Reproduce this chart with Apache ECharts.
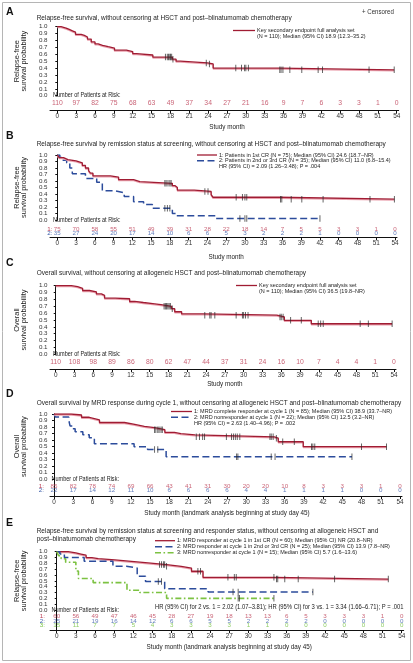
<!DOCTYPE html>
<html><head><meta charset="utf-8">
<script src="https://cdn.jsdelivr.net/npm/echarts@6/dist/echarts.min.js"></script>
<style>html,body{margin:0;padding:0;background:#fff}#c{width:413px;height:663px}</style>
</head><body><div id="c"></div>
<script>
// ---------- DATA ----------
const monthTicks = [0,3,6,9,12,15,18,21,24,27,30,33,36,39,42,45,48,51,54];

const survA = [[0,1.00],[0.6,0.98],[1.4,0.96],[1.9,0.94],[2.4,0.92],[2.9,0.89],[3.8,0.875],[4.3,0.85],[4.8,0.82],[5.4,0.78],[6.0,0.75],[6.5,0.73],[7.2,0.71],[8.1,0.69],[9.1,0.66],[11.0,0.64],[12.0,0.61],[12.6,0.59],[15.2,0.56],[18.3,0.53],[18.9,0.50],[19.6,0.475],[23.9,0.46],[24.8,0.40],[35.4,0.375]];
const censA = [17.2,17.5,17.7,17.9,18.0,18.2,18.4,23.7,24.2,28.4,29.3,29.8,30.0,30.4,35.4,35.6,35.9,37.0,38.9,41.5,42.2,49.6,53.6];
const riskA = [110,97,82,75,68,63,49,37,34,27,21,16,9,7,6,3,3,1,0];

const survB1 = [[0,1],[0.3,0.96],[1.0,0.93],[1.7,0.91],[3.0,0.88],[4.0,0.84],[4.5,0.80],[5.0,0.76],[5.3,0.72],[5.7,0.68],[8.5,0.66],[9.8,0.62],[12.2,0.59],[13.2,0.565],[18.4,0.53],[18.8,0.50],[19.2,0.46],[21.9,0.44],[24.6,0.39],[24.9,0.35],[35.4,0.32]];
const censB1 = [17.2,17.4,17.7,18.0,18.2,23.6,24.1,28.6,29.6,30.0,30.3,35.7,35.9,37.4,39.1,42.5,50.0,53.9];
const survB2 = [[0,1],[0.4,0.96],[0.8,0.92],[1.5,0.88],[2.0,0.80],[2.4,0.71],[4.5,0.64],[6.3,0.58],[7.2,0.45],[9.2,0.42],[10.7,0.36],[12.2,0.28],[13.8,0.24],[15.2,0.18],[18.4,0.10],[19.0,0.065],[25.3,0.025]];
const censB2 = [17.2,17.6,18.0,29.2,30.0,30.3,42.0];
const riskB1 = [75,70,58,55,51,49,39,31,28,22,18,14,7,5,5,3,3,1,0];
const riskB2 = [35,27,24,20,17,14,10,6,6,5,3,2,2,2,1,0,0,0,0];

const survC = [[0,1],[2.5,0.985],[3.5,0.96],[4.3,0.93],[5.4,0.91],[6.5,0.88],[7.3,0.86],[7.8,0.82],[9.5,0.81],[11.8,0.77],[12.6,0.755],[14.0,0.74],[15.5,0.725],[16.8,0.70],[18.5,0.665],[19.0,0.62],[20.1,0.59],[23.6,0.57],[35.3,0.545],[36.5,0.495],[40.8,0.445]];
const censC = [17.3,17.5,17.7,17.9,18.1,18.3,18.6,23.8,24.6,24.8,25.4,28.8,29.8,30.0,30.3,30.7,35.8,36.0,36.3,37.5,39.2,41.9,42.3,42.7,48.6,49.9,53.7];
const riskC = [110,108,98,89,86,80,62,47,44,37,31,24,16,10,7,4,4,1,0];

const survD1 = [[0,1],[2.7,0.985],[4.3,0.95],[5.5,0.93],[6.3,0.91],[7.1,0.87],[11.0,0.84],[12.6,0.81],[14.1,0.79],[15.7,0.76],[17.3,0.72],[18.8,0.70],[19.8,0.68],[22.0,0.65],[34.4,0.63],[35.0,0.575],[38.9,0.50]];
const censD1 = [15.7,15.9,16.2,16.4,16.7,16.9,22.2,22.7,23.2,23.5,26.9,27.7,28.0,28.3,28.6,29.0,33.7,33.9,34.2,34.7,35.7,37.5,40.2,40.4,40.7,48.0,51.9];
const survD2 = [[0,1],[0.2,0.955],[2.3,0.909],[2.5,0.818],[2.9,0.773],[3.3,0.727],[4.5,0.682],[5.5,0.636],[6.3,0.545],[12.5,0.50],[14.6,0.455],[17.5,0.345]];
const censD2 = [15.7,16.2,28.5,28.7,33.9,34.5,46.5];
const riskD1 = [85,82,78,74,69,66,43,41,31,30,20,20,10,8,3,3,3,1,0];
const riskD2 = [22,17,14,12,11,10,6,6,6,6,4,4,1,1,1,1,0,0,0];

const survE1 = [[0,1],[1.8,0.98],[3.0,0.96],[3.8,0.94],[4.6,0.90],[5.5,0.88],[6.5,0.86],[9.1,0.835],[11.7,0.81],[14.3,0.78],[17.2,0.75],[19.5,0.72],[21.1,0.665],[22.9,0.56],[34.1,0.53]];
const censE1 = [16.1,16.4,16.7,16.9,17.2,22.1,22.5,26.8,27.8,28.1,34.0,34.4,34.6,35.7,37.8,43.5,51.9];
const survE2 = [[0,1],[0.5,0.96],[1.2,0.90],[4.3,0.835],[8.8,0.75],[10.9,0.72],[12.6,0.58],[13.9,0.49],[16.9,0.365],[23.7,0.31]];
const censE2 = [15.9,16.4,27.6,28.4,40.1];
const survE3 = [[0,1],[0.3,0.93],[0.7,0.88],[1.4,0.82],[3.0,0.67],[3.4,0.54],[5.7,0.47],[11.0,0.34],[13.0,0.30],[17.2,0.20]];
const censE3 = [28.4,28.6,34.0];
const riskE1 = [60,56,49,47,46,45,28,27,19,18,13,13,6,5,3,3,3,1,0];
const riskE2 = [25,21,19,16,14,12,6,6,5,5,2,2,2,2,0,0,0,0,0];
const riskE3 = [15,11,7,7,5,4,3,3,3,3,1,1,0,0,0,0,0,0,0];

// ---------- STYLE ----------
const FONT = '"Liberation Sans", Arial, sans-serif';
const RED = '#a01c33', BLUE = '#2c4c9c', GREEN = '#7cc242';
const RED_T = '#bb3b52', BLUE_T = '#3b5daa', GREEN_T = '#72c03c';
const STY = {
  red:   {color: RED, width: 1.3, type: 'solid', shadowColor: '#eaa0ad', shadowOffsetY: 1, shadowBlur: 0},
  blue:  {color: BLUE, width: 1.5, type: [7, 3.5]},
  green: {color: GREEN, width: 1.6, type: [6, 2.5, 1.6, 2.5]}
};

function survAt(steps, t) { let s = steps[0][1]; for (const p of steps) { if (p[0] <= t) s = p[1]; else break; } return s; }

const panels = [
  {letter: 'A', letterY: 12, title: ['Relapse-free survival, without censoring at HSCT and post\u2013blinatumomab chemotherapy'], titleY: 18.3,
   x0: 57.3, x54: 396.7, y1: 26.7, y0: 95.7, rows: [103.3], axis: 110.7, xTitleY: 127.3, xTitle: 'Study month', riskFs: 6.8,
   yName: 'Relapse-free\nsurvival probability', axisDown: false, rowLabelX: null,
   curves: [{s: survA, c: censA, st: 'red'}], risk: [{v: riskA, col: RED_T}],
   leg: {sx1: 233, sx2: 255, tx: 257, items: [{y: 30.5, st: 'red', lines: ['Key secondary endpoint full analysis set', '(N = 110); Median (95% CI) 18.9 (12.3\u201335.2)']}], extra: []}},
  {letter: 'B', letterY: 136, title: ['Relapse-free survival by remission status at screening, without censoring at HSCT and post\u2013blinatumomab chemotherapy'], titleY: 144.3,
   x0: 57.3, x54: 395, y1: 155, y0: 220, rows: [229.3, 233.3], axis: 237.3, xTitleY: 256.7, xTitle: 'Study month', riskFs: 6.2,
   yName: 'Relapse-free\nsurvival probability', axisDown: false, rowLabelX: 52.5,
   curves: [{s: survB2, c: censB2, st: 'blue'}, {s: survB1, c: censB1, st: 'red'}], risk: [{v: riskB1, col: RED_T}, {v: riskB2, col: BLUE_T}],
   leg: {sx1: 197, sx2: 217, tx: 219, items: [
     {y: 155, st: 'red', lines: ['1: Patients in 1st CR (N = 75); Median (95% CI) 24.6 (18.7\u2013NR)']},
     {y: 160.7, st: 'blue', lines: ['2: Patients in 2nd or 3rd CR (N = 35); Median (95% CI) 11.0 (6.8\u201315.4)']}],
     extra: [{x: 219, y: 166.3, t: 'HR (95% CI) = 2.09 (1.26\u20133.48); P = .004', fs: 6.1}]}},
  {letter: 'C', letterY: 263, title: ['Overall survival, without censoring at allogeneic HSCT and post\u2013blinatumomab chemotherapy'], titleY: 273.3,
   x0: 55.7, x54: 394, y1: 285.7, y0: 354.3, rows: [362.3], axis: 369, xTitleY: 384.3, xTitle: 'Study month', riskFs: 6.8,
   yName: 'Overall\nsurvival probability', axisDown: false, rowLabelX: null,
   curves: [{s: survC, c: censC, st: 'red'}], risk: [{v: riskC, col: RED_T}],
   leg: {sx1: 236, sx2: 257, tx: 259, items: [{y: 285.5, st: 'red', lines: ['Key secondary endpoint full analysis set', '(N = 110); Median (95% CI) 36.5 (19.8\u2013NR)']}], extra: []}},
  {letter: 'D', letterY: 394, title: ['Overall survival by MRD response during cycle 1, without censoring at allogeneic HSCT and post\u2013blinatumomab chemotherapy'], titleY: 403.3,
   x0: 54, x54: 400, y1: 414, y0: 479.3, rows: [486.7, 490.7], axis: 496, xTitleY: 513.3, xTitle: 'Study month (landmark analysis beginning at study day 45)', riskFs: 6.2,
   yName: 'Overall\nsurvival probability', axisDown: true, rowLabelX: 44,
   curves: [{s: survD2, c: censD2, st: 'blue'}, {s: survD1, c: censD1, st: 'red'}], risk: [{v: riskD1, col: RED_T}, {v: riskD2, col: BLUE_T}],
   leg: {sx1: 171, sx2: 192, tx: 194, items: [
     {y: 411.5, st: 'red', lines: ['1: MRD complete responder at cycle 1 (N = 85); Median (95% CI) 38.9 (33.7\u2013NR)']},
     {y: 417.3, st: 'blue', lines: ['2: MRD nonresponder at cycle 1 (N = 22); Median (95% CI) 12.5 (3.2\u2013NR)']}],
     extra: [{x: 194, y: 423.3, t: 'HR (95% CI) = 2.63 (1.40\u20134.96); P = .002', fs: 6.1}]}},
  {letter: 'E', letterY: 523, title: ['Relapse-free survival by remission status at screening and responder status, without censoring at allogeneic HSCT and', 'post\u2013blinatumomab chemotherapy'], titleY: 531,
   x0: 56.7, x54: 401.7, y1: 551.7, y0: 610, rows: [616.7, 621, 625], axis: 630, xTitleY: 646.7, xTitle: 'Study month (landmark analysis beginning at study day 45)', riskFs: 6.2,
   yName: 'Relapse-free\nsurvival probability', axisDown: true, rowLabelX: 45,
   curves: [{s: survE1, c: censE1, st: 'red'}, {s: survE2, c: censE2, st: 'blue'}, {s: survE3, c: censE3, st: 'green'}],
   risk: [{v: riskE1, col: RED_T}, {v: riskE2, col: BLUE_T}, {v: riskE3, col: GREEN_T}],
   leg: {sx1: 155, sx2: 175, tx: 177, items: [
     {y: 540.7, st: 'red', lines: ['1: MRD responder at cycle 1 in 1st CR (N = 60); Median (95% CI) NR (20.8\u2013NR)']},
     {y: 546.7, st: 'blue', lines: ['2: MRD responder at cycle 1 in 2nd or 3rd CR (N = 25); Median (95% CI) 13.9 (7.8\u2013NR)']},
     {y: 552.7, st: 'green', lines: ['3: MRD nonresponder at cycle 1 (N = 15); Median (95% CI) 5.7 (1.6\u201313.6)']}],
     extra: [{x: 155, y: 607.3, t: 'HR (95% CI) for 2 vs. 1 = 2.02 (1.07\u20133.81); HR (95% CI) for 3 vs. 1 = 3.34 (1.66\u20136.71); P = .001', fs: 6.5}]}}
];

// ---------- BUILD ----------
const option = {animation: false, grid: [], xAxis: [], yAxis: [], series: [], graphic: []};
const G = option.graphic;
function txt(x, y, t, size, fill, o) {
  o = o || {};
  G.push({type: 'text', x: x, y: y, scaleX: o.sx || 1, silent: true,
    style: {text: t, fill: fill || '#222', font: (o.bold ? 'bold ' : '') + size + 'px ' + FONT,
            align: o.align || 'left', verticalAlign: 'middle'}});
}
G.push({type: 'rect', shape: {x: 2.5, y: 2.5, width: 408, height: 658}, style: {fill: 'none', stroke: '#b5b5b5', lineWidth: 1}, silent: true});
txt(362, 12, '+ Censored', 6.8, '#333', {sx: 0.9});

panels.forEach(P => {
  const ppm = (P.x54 - P.x0) / 54;
  const xr = P.x54 + 2;
  const xmin = (50 - P.x0) / ppm, xmax = 54 + (xr - P.x54) / ppm;
  const gi = option.grid.length;
  option.grid.push({left: 50, top: P.y1, width: xr - 50, height: P.y0 - P.y1});
  option.grid.push({left: 50, top: P.y0, width: xr - 50, height: P.axis - P.y0});
  option.xAxis.push({type: 'value', gridIndex: gi, min: xmin, max: xmax, show: false});
  option.xAxis.push({type: 'value', gridIndex: gi + 1, min: xmin, max: xmax,
    axisLine: {show: true, lineStyle: {color: '#111', width: 1}},
    axisTick: {show: true, customValues: monthTicks, length: 3, lineStyle: {color: '#111'}},
    axisLabel: {show: true, customValues: monthTicks, fontSize: 6.4, color: '#333', margin: 3, fontFamily: FONT},
    splitLine: {show: false}});
  option.yAxis.push({type: 'value', gridIndex: gi, min: 0, max: 1, interval: 0.1,
    axisLine: {show: true, lineStyle: {color: '#111', width: 1}},
    axisTick: {show: true, length: 2, lineStyle: {color: '#111'}},
    axisLabel: {fontSize: 6.2, color: '#333', margin: 2.5, fontFamily: FONT, formatter: v => v.toFixed(1)},
    splitLine: {show: false},
    name: P.yName, nameLocation: 'middle', nameGap: 18, nameRotate: 90,
    nameTextStyle: {fontSize: 7.4, lineHeight: 7.6, color: '#222', fontFamily: FONT}});
  option.yAxis.push({type: 'value', gridIndex: gi + 1, min: 0, max: 1,
    axisLine: {show: P.axisDown, lineStyle: {color: '#111', width: 1}},
    axisTick: {show: false}, axisLabel: {show: false}, splitLine: {show: false}});

  // curves
  P.curves.forEach(cv => {
    const last = cv.s[cv.s.length - 1][1];
    const end = Math.max.apply(null, cv.c);
    option.series.push({type: 'line', xAxisIndex: gi, yAxisIndex: gi, step: 'end', symbol: 'none', silent: true, z: 3,
      data: cv.s.concat([[end, last]]), lineStyle: STY[cv.st]});
    option.series.push({type: 'scatter', xAxisIndex: gi, yAxisIndex: gi, symbol: 'rect', symbolSize: [0.9, 6.5], silent: true, z: 5,
      itemStyle: {color: '#2a2a2a'}, data: cv.c.map(t => [t, survAt(cv.s, t)])});
  });
  // risk table
  const span = P.axis - P.y0;
  P.risk.forEach((r, k) => {
    const rv = (P.axis - P.rows[k]) / span;
    option.series.push({type: 'scatter', xAxisIndex: gi + 1, yAxisIndex: gi + 1, symbolSize: 0, silent: true,
      data: r.v.map((n, j) => [monthTicks[j], rv, n]),
      label: {show: true, position: 'inside', formatter: p => String(p.value[2]), color: r.col, fontSize: P.riskFs, fontFamily: FONT}});
    if (P.rowLabelX !== null) txt(P.rowLabelX, P.rows[k], (k + 1) + ':', 6.2, r.col, {align: 'right'});
  });
  txt(P.rowLabelX !== null && P.rowLabelX < 50 ? 51.5 : 53, P.y0, 'Number of Patients at Risk:', 6.3, '#222', {sx: 0.88});

  // x title
  txt((P.x0 + P.x54) / 2, P.xTitleY, P.xTitle, 7.6, '#222', {align: 'center', sx: 0.83});

  // panel letter + title
  txt(6, P.letterY, P.letter, 10.5, '#111', {bold: true});
  P.title.forEach((t, k) => txt(36.7, P.titleY + k * 8, t, 7.2, '#222', {sx: 0.9}));

  // legend
  P.leg.items.forEach(it => {
    const s = STY[it.st];
    G.push({type: 'line', silent: true, shape: {x1: P.leg.sx1, y1: it.y, x2: P.leg.sx2, y2: it.y},
      style: {stroke: s.color, lineWidth: s.width, lineDash: Array.isArray(s.type) ? s.type : null}});
    it.lines.forEach((l, k) => txt(P.leg.tx, it.y + k * 5.4, l, 6.1, '#222', {sx: 0.9}));
  });
  P.leg.extra.forEach(e => txt(e.x, e.y, e.t, e.fs, '#222', {sx: 0.9}));
});

const chart = echarts.init(document.getElementById('c'), null, {renderer: 'canvas'});
chart.setOption(option);
</script></body></html>
